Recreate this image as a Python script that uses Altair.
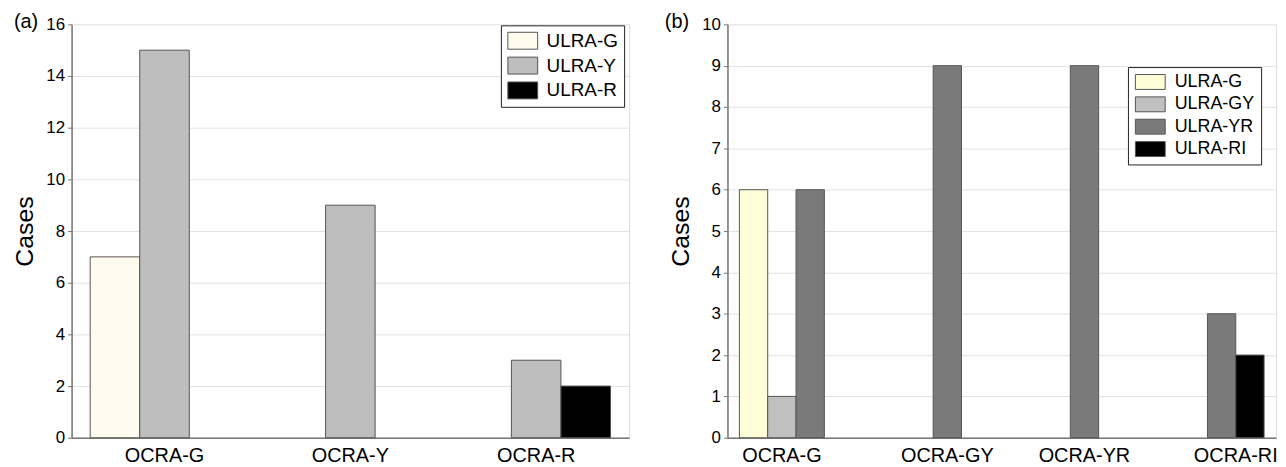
import altair as alt
import pandas as pd

# ---------- panel (a) ----------
a_categories = ["OCRA-G", "OCRA-Y", "OCRA-R"]
a_series = ["ULRA-G", "ULRA-Y", "ULRA-R"]
a_ulra_g = [7, 0, 0]
a_ulra_y = [15, 9, 3]
a_ulra_r = [0, 0, 2]
a_colors = ["#FFFBEE", "#BEBEBE", "#000000"]
a_ticks = [0, 2, 4, 6, 8, 10, 12, 14, 16]

# ---------- panel (b) ----------
b_categories = ["OCRA-G", "OCRA-GY", "OCRA-YR", "OCRA-RI"]
b_series = ["ULRA-G", "ULRA-GY", "ULRA-YR", "ULRA-RI"]
b_ulra_g = [6, 0, 0, 0]
b_ulra_gy = [1, 0, 0, 0]
b_ulra_yr = [6, 9, 9, 3]
b_ulra_ri = [0, 0, 0, 2]
b_colors = ["#FFFDD8", "#C0C0C0", "#7A7A7A", "#000000"]
b_ticks = [0, 1, 2, 3, 4, 5, 6, 7, 8, 9, 10]

FONT = "Liberation Sans"
H = 416
SYM_W = 30


def long_df(categories, series, columns):
    rows = []
    for s, vals in zip(series, columns):
        for c, v in zip(categories, vals):
            rows.append({"category": c, "series": s, "value": v})
    return pd.DataFrame(rows)


def label_offsets(categories, series, columns, width, pad):
    # centre axis labels under the non-zero bars of each group
    n = len(categories)
    slot = width / n * (1 - pad) / len(series)
    conds = []
    for i, c in enumerate(categories):
        idx = [j for j, col in enumerate(columns) if col[i] > 0]
        off = (sum(idx) / len(idx) - (len(series) - 1) / 2) * slot
        conds.append({"test": f"datum.value === '{c}'", "value": round(off, 1)})
    return {"condition": conds, "value": 0}


def panel(df, cats, series, colors, ticks, ymax, width, pad, lab_off,
          leg_x, leg_y, leg_font, leg_row_pad, leg_sym_h, tag, tag_x):
    x_axis_kw = dict(title=None, labelFontSize=20, labelColor="#000", labelFont=FONT,
                     labelPadding=8, ticks=False, domainColor="#777", domainWidth=1.5,
                     labelAngle=0, grid=False)
    if lab_off is not None:
        x_axis_kw["labelOffset"] = lab_off
    # rectangle symbol: laid out as a leg_sym_h square, drawn SYM_W wide
    hx = SYM_W / leg_sym_h
    sym = f"M-{hx:.3f},-1H{hx:.3f}V1H-{hx:.3f}Z"
    extra = (SYM_W - leg_sym_h) / 2.0
    bars = alt.Chart(df).transform_filter("datum.value > 0").mark_bar(
        stroke="#555", strokeWidth=1, opacity=1
    ).encode(
        x=alt.X("category:N", sort=cats,
                scale=alt.Scale(domain=cats, paddingInner=pad, paddingOuter=pad / 2),
                axis=alt.Axis(**x_axis_kw)),
        xOffset=alt.XOffset("series:N", sort=series,
                            scale=alt.Scale(domain=series, paddingInner=0, paddingOuter=0)),
        y=alt.Y("value:Q", scale=alt.Scale(domain=[0, ymax], nice=False),
                axis=alt.Axis(title="Cases", titleFontSize=25, titleFont=FONT,
                              titleFontWeight="normal", titleColor="#000", titlePadding=8,
                              values=ticks, labelFontSize=17, labelFont=FONT, labelColor="#000",
                              tickSize=4, tickColor="#777", domainColor="#777", domainWidth=1.5,
                              labelPadding=3, grid=True, gridColor="#e2e2e2",
                              gridOpacity={"condition": {"test": f"datum.value === {ymax}", "value": 0}, "value": 1})),
        color=alt.Color("series:N",
                        scale=alt.Scale(domain=series, range=colors),
                        legend=alt.Legend(title=None, orient="none", legendX=leg_x, legendY=leg_y,
                                          strokeColor="#222", fillColor="white", padding=6,
                                          symbolType=sym, symbolSize=leg_sym_h * leg_sym_h,
                                          symbolOffset=extra,
                                          symbolStrokeColor="#555",
                                          symbolStrokeWidth=1, symbolOpacity=1,
                                          labelFontSize=leg_font, labelFont=FONT, labelColor="#000",
                                          labelOffset=8 + extra, rowPadding=leg_row_pad)),
    )
    tag_df = pd.DataFrame({"tag": [tag]})
    tag_text = alt.Chart(tag_df).mark_text(
        align="left", baseline="middle", fontSize=20, font=FONT, color="#000"
    ).encode(x=alt.value(tag_x), y=alt.value(-2), text="tag:N")
    return alt.layer(bars, tag_text).properties(width=width, height=H)


df_a = long_df(a_categories, a_series, [a_ulra_g, a_ulra_y, a_ulra_r])
df_b = long_df(b_categories, b_series, [b_ulra_g, b_ulra_gy, b_ulra_yr, b_ulra_ri])

W_A, PAD_A = 561, 0.2
W_B, PAD_B = 552, 0.174

pa = panel(df_a, a_categories, a_series, a_colors, a_ticks, 16, W_A, PAD_A, None,
           432, 1, 19, 4, 17, "(a)", -58)
pb = panel(df_b, b_categories, b_series, b_colors, b_ticks, 10, W_B, PAD_B,
           label_offsets(b_categories, b_series, [b_ulra_g, b_ulra_gy, b_ulra_yr, b_ulra_ri], W_B, PAD_B),
           403, 43, 18, 2.5, 15, "(b)", -63)

chart = alt.hconcat(pa, pb, spacing=34).resolve_scale(
    x="independent", y="independent", color="independent", xOffset="independent"
).properties(
    padding={"left": 4, "top": 2, "right": 0, "bottom": 0}
).configure_view(stroke=None).configure(font=FONT)

chart.save("out.html", embed_options={"renderer": "svg", "actions": False})
